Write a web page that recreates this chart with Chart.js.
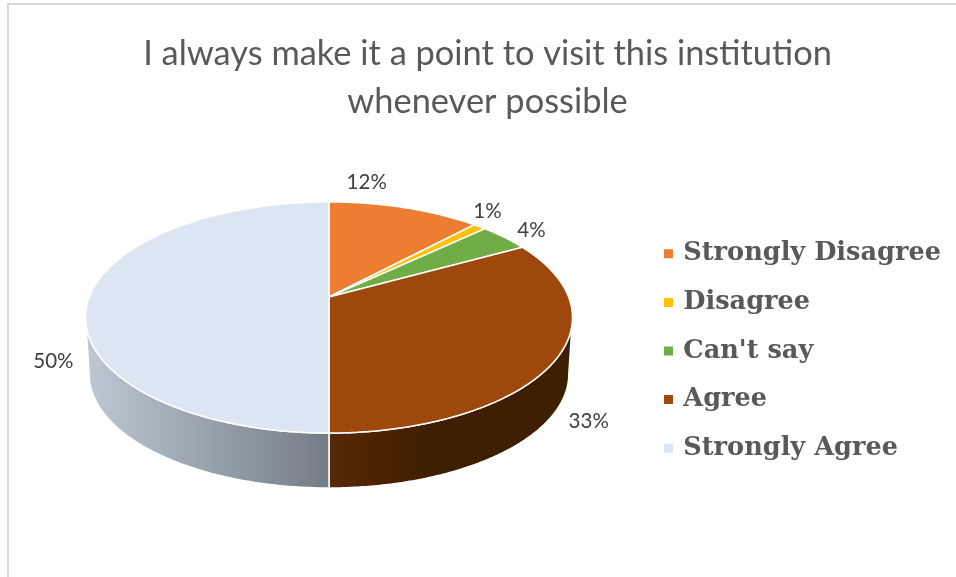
<!DOCTYPE html>
<html>
<head>
<meta charset="utf-8">
<title>Visit this institution</title>
<script src="https://cdn.jsdelivr.net/npm/chart.js@4"></script>
<style>
    html, body { margin: 0; padding: 0; background: #fff; overflow: hidden; }
    #frame { position: absolute; left: 7px; top: 3px; width: 1000px; height: 700px; border: 2px solid #d9d9d9; }
    #visitChart { position: absolute; left: 0; top: 0; }
</style>
</head>
<body>
<div id="frame"></div>
<canvas id="visitChart" width="956" height="577"></canvas>
<script>
const titleLines = ['I always make it a point to visit this institution', 'whenever possible'];
const categories = ['Strongly Disagree', 'Disagree', "Can't say", 'Agree', 'Strongly Agree'];
const percentages = [12, 1, 4, 33, 50];
const sliceColors = ['#ED7D31', '#FFC000', '#70AD47', '#9E480E', '#DBE6F2'];

// side wall colours of the 3D disc (left end, right end)
const wallColors = [
    ['#8a4a20', '#8a4a20'],
    ['#a07800', '#a07800'],
    ['#466b2c', '#466b2c'],
    ['#572906', '#3f1e00'],
    ['#bcc8d3', '#747d85']
];

// tilted disc: apex, radius and perspective
const cx = 329, apexY = 297, radiusX = 239.6, radiusY = 111.9, persp = 0.1775;
const wallDepth = 57, wallShrink = 0.985;
// label nudges from the rim point of each slice
const labelNudge = [[-38, -25], [8, -15], [27, -7], [33, 62], [-36, 64]];

function topPoint(angle) {
    const d = 1 - persp * Math.sin(angle);
    return [cx + radiusX * Math.cos(angle) / d, apexY + radiusY * Math.sin(angle) / d];
}

function wallPoint(angle) {
    const p = topPoint(angle);
    return [cx + (p[0] - cx) * wallShrink, apexY + (p[1] - apexY) * wallShrink + wallDepth];
}

function traceArc(ctx, from, to, pointFn) {
    const steps = Math.max(2, Math.ceil(Math.abs(to - from) / 0.01));
    for (let i = 0; i <= steps; i++) {
        const p = pointFn(from + (to - from) * i / steps);
        ctx.lineTo(p[0], p[1]);
    }
}

const discPlugin = {
    id: 'disc',
    beforeDatasetDraw(chart, args) {
        const ctx = chart.ctx;
        const arcs = args.meta.data;
        const frontFrom = Math.asin(persp), frontTo = Math.PI - frontFrom;

        // side wall first, only the part facing us
        arcs.forEach((arc, i) => {
            const from = Math.max(arc.startAngle, frontFrom);
            const to = Math.min(arc.endAngle, frontTo);
            if (to <= from) return;
            const x0 = Math.min(topPoint(from)[0], topPoint(to)[0]);
            const x1 = Math.max(topPoint(from)[0], topPoint(to)[0]);
            const grad = ctx.createLinearGradient(x0, 0, x1, 0);
            if (i === 3) {
                // Agree wall goes dark quickly to the right of the front
                grad.addColorStop(0, wallColors[i][0]);
                grad.addColorStop(0.4, wallColors[i][1]);
                grad.addColorStop(1, wallColors[i][1]);
            } else {
                grad.addColorStop(0, wallColors[i][0]);
                grad.addColorStop(1, wallColors[i][1]);
            }
            ctx.beginPath();
            traceArc(ctx, from, to, topPoint);
            traceArc(ctx, to, from, wallPoint);
            ctx.closePath();
            ctx.fillStyle = grad;
            ctx.fill();
            ctx.strokeStyle = '#fff';
            ctx.lineWidth = 1.5;
            ctx.stroke();
        });

        // top face
        arcs.forEach((arc, i) => {
            ctx.beginPath();
            ctx.moveTo(cx, apexY);
            traceArc(ctx, arc.startAngle, arc.endAngle, topPoint);
            ctx.closePath();
            ctx.fillStyle = sliceColors[i];
            ctx.fill();
            ctx.strokeStyle = '#fff';
            ctx.lineWidth = 1.5;
            ctx.stroke();
        });

        // percent labels
        ctx.font = '20.5px Lato';
        ctx.fillStyle = '#404040';
        ctx.textAlign = 'center';
        ctx.textBaseline = 'middle';
        arcs.forEach((arc, i) => {
            const rim = topPoint((arc.startAngle + arc.endAngle) / 2);
            ctx.fillText(percentages[i] + '%', rim[0] + labelNudge[i][0], rim[1] + labelNudge[i][1]);
        });
        return false;
    }
};

const chart = new Chart(document.getElementById('visitChart'), {
    type: 'pie',
    data: {
        labels: categories,
        datasets: [{
            data: percentages,
            backgroundColor: sliceColors,
            borderWidth: 0
        }]
    },
    options: {
        responsive: false,
        animation: false,
        layout: { padding: { top: 30, right: 5, bottom: -95, left: 24 } },
        plugins: {
            tooltip: { enabled: false },
            title: {
                display: true,
                text: titleLines,
                color: '#595959',
                font: { family: 'Lato', size: 34.4, weight: '400', lineHeight: 1.4 },
                padding: { top: 0, bottom: 0 }
            },
            legend: {
                position: 'right',
                align: 'center',
                labels: {
                    usePointStyle: true,
                    pointStyle: 'rect',
                    boxWidth: 4,
                    boxHeight: 9,
                    padding: 23,
                    color: '#595959',
                    font: { family: 'DejaVu Serif', size: 25.6, weight: 'bold' }
                }
            }
        }
    },
    plugins: [discPlugin]
});
</script>
</body>
</html>
